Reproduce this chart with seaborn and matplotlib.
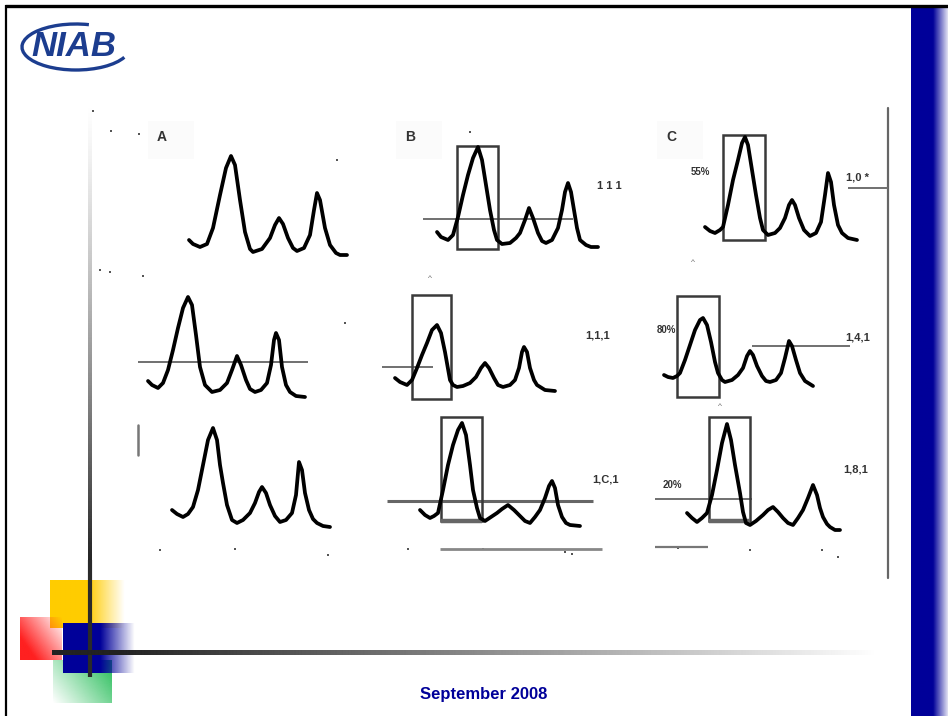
import numpy as np
import matplotlib
matplotlib.use("Agg")
import matplotlib.pyplot as plt
from matplotlib.patches import Rectangle, Arc
import seaborn as sns

sns.set_theme(style="white")
plt.rcParams["font.family"] = ["Liberation Sans", "DejaVu Sans"]

# ---------------- data (retention time, detector response) ----------------
a1_t = [59, 63, 70, 77, 83, 90, 96, 101, 105, 110, 115, 120, 123, 132, 140, 145, 149, 153, 158, 163, 167, 174, 180, 184, 187, 190, 195, 200, 206, 210, 217]
a1_y = [20, 16, 13, 16, 32, 65, 92, 104, 95, 60, 28, 11, 8, 11, 22, 35, 42, 36, 22, 12, 9, 12, 25, 50, 67, 60, 32, 15, 7, 5, 5]

b1_t = [57, 61, 68, 73, 78, 83, 88, 93, 98, 102, 106, 110, 114, 117, 122, 130, 136, 140, 145, 149, 153, 158, 162, 166, 172, 178, 182, 185, 188, 191, 194, 197, 200, 206, 211, 218]
b1_y = [28, 23, 20, 25, 43, 65, 85, 102, 113, 100, 75, 50, 30, 20, 16, 17, 22, 27, 40, 52, 42, 27, 19, 17, 20, 32, 50, 68, 77, 68, 50, 32, 20, 15, 13, 13]

c1_t = [65, 70, 75, 80, 83, 88, 93, 98, 102, 105, 108, 112, 116, 120, 123, 128, 135, 140, 145, 149, 152, 155, 159, 164, 170, 176, 181, 185, 188, 191, 194, 198, 202, 208, 217]
c1_y = [33, 29, 27, 30, 33, 55, 80, 100, 117, 123, 115, 90, 65, 42, 30, 25, 27, 32, 42, 55, 60, 55, 42, 30, 24, 27, 38, 65, 87, 78, 55, 35, 27, 22, 20]

a2_t = [18, 22, 28, 33, 38, 43, 48, 53, 58, 62, 66, 70, 75, 82, 90, 97, 102, 107, 111, 116, 120, 125, 131, 137, 141, 144, 146, 149, 152, 156, 160, 166, 175]
a2_y = [24, 20, 17, 22, 35, 55, 77, 97, 108, 100, 70, 38, 20, 13, 15, 22, 35, 49, 40, 25, 16, 13, 15, 22, 40, 65, 72, 65, 38, 20, 13, 9, 8]

b2_t = [15, 20, 27, 32, 37, 42, 47, 52, 57, 61, 65, 70, 73, 77, 83, 90, 96, 101, 105, 109, 114, 118, 123, 130, 135, 139, 142, 144, 147, 150, 154, 157, 165, 175]
b2_y = [27, 23, 20, 25, 37, 50, 62, 75, 80, 72, 53, 25, 20, 18, 19, 22, 28, 37, 42, 37, 27, 20, 18, 20, 25, 37, 53, 58, 53, 37, 25, 20, 15, 14]

c2_t = [24, 28, 33, 37, 40, 45, 50, 55, 60, 63, 67, 71, 75, 78, 82, 85, 92, 98, 103, 107, 110, 113, 117, 122, 126, 130, 136, 141, 145, 149, 152, 156, 160, 165, 173]
c2_y = [30, 28, 27, 29, 32, 45, 60, 75, 85, 87, 80, 63, 43, 32, 25, 23, 25, 30, 37, 49, 54, 50, 39, 29, 24, 23, 25, 32, 47, 64, 59, 45, 32, 24, 19]

a3_t = [42, 47, 53, 58, 63, 68, 73, 78, 83, 87, 90, 93, 97, 102, 107, 113, 120, 125, 129, 132, 136, 140, 145, 150, 156, 162, 166, 169, 172, 175, 179, 183, 187, 193, 200]
a3_y = [30, 26, 23, 26, 33, 50, 75, 100, 112, 100, 75, 57, 35, 20, 17, 20, 27, 37, 48, 53, 47, 35, 24, 18, 20, 27, 45, 78, 70, 47, 30, 21, 17, 14, 13]

b3_t = [40, 45, 50, 54, 58, 63, 68, 73, 78, 82, 86, 90, 93, 97, 100, 105, 111, 117, 122, 128, 134, 140, 145, 150, 155, 160, 165, 169, 172, 175, 178, 182, 186, 190, 200]
b3_y = [30, 25, 22, 24, 27, 50, 75, 95, 110, 117, 105, 75, 50, 32, 22, 19, 23, 27, 31, 35, 30, 24, 19, 17, 23, 30, 42, 54, 59, 52, 35, 23, 17, 15, 14]

c3_t = [47, 52, 57, 62, 67, 72, 77, 82, 87, 91, 95, 100, 103, 106, 110, 116, 123, 128, 133, 138, 143, 148, 153, 158, 163, 168, 173, 177, 180, 183, 187, 190, 195, 200]
c3_y = [27, 22, 18, 22, 27, 45, 70, 97, 116, 100, 75, 47, 28, 17, 15, 19, 25, 30, 33, 28, 22, 17, 15, 22, 30, 42, 55, 45, 32, 23, 16, 13, 10, 10]

# integration windows (t_start, t_end, y_low, y_high) and threshold lines (t_start, t_end, level)
b1_box = (77, 118, 11, 114); b1_thr = (43, 193, 41)
c1_box = (83, 125, 20, 125); c1_thr = (208, 248, 72)
a2_thr = (8, 178, 43)
b2_box = (32, 71, 6, 110);   b2_thr = (2, 53, 38)
c2_box = (37, 79, 8, 109);   c2_thr = (112, 210, 59)
b3_box = (61, 102, 19, 123); b3_thr = (7, 213, 39); b3_base = (60, 222, -9)
c3_box = (69, 110, 19, 123); c3_thr = (15, 112, 41); c3_base = (15, 68, -7)

panel_labels = ["A", "B", "C"]
pct_labels = ["55%", "80%", "20%"]
ratio_labels = ["1 1 1", "1,0 *", "1,1,1", "1,4,1", "1,C,1", "1,8,1"]
footer = "September 2008"

# ---------------- figure ----------------
W, H = 948, 716
fig = plt.figure(figsize=(W / 100, H / 100), dpi=100)
bg = fig.add_axes([0, 0, 1, 1])
bg.set_xlim(0, W); bg.set_ylim(H, 0); bg.axis("off")


def grad(ax, x0, x1, y0, y1, rgb, afn, z):
    n = 120
    U, V = np.meshgrid(np.linspace(0, 1, n), np.linspace(0, 1, n))
    img = np.zeros((n, n, 4))
    img[..., :3] = matplotlib.colors.to_rgb(rgb)
    img[..., 3] = np.clip(afn(U, V), 0, 1)
    ax.imshow(img, extent=(x0, x1, y1, y0), origin="upper", aspect="auto",
              zorder=z, interpolation="bilinear")


# right blue bar
grad(bg, 911, 948, 7, 716, "#000099", lambda U, V: 0.12 + 0.88 * np.clip((1 - U) / 0.4, 0, 1), 1)
# borders
bg.plot([5, 948], [6, 6], color="black", lw=2.4, zorder=3, solid_capstyle="butt")
bg.plot([6, 6], [5, 716], color="black", lw=1.6, zorder=3, solid_capstyle="butt")

# logo
bg.text(31, 46, "NIAB", fontsize=25, fontweight="bold", style="italic",
        color="#1c3d8f", va="center", ha="left", zorder=4)
bg.add_patch(Arc((76, 47), 108, 46, theta1=12, theta2=300, color="#1c3d8f", lw=2.4, zorder=4))

# decorative squares
grad(bg, 50, 125, 580, 628, "#FFCC00", lambda U, V: (1 - U) / 0.5, 2)
grad(bg, 20, 62, 617, 660, "#FF2020", lambda U, V: (1 - U) * 0.75 + V * 0.55, 2)
grad(bg, 53, 112, 660, 703, "#30C060", lambda U, V: (U * 0.8 + (1 - V) * 0.45) * 0.85, 2)
grad(bg, 63, 135, 623, 673, "#000099", lambda U, V: (1 - U) / 0.48, 3)
# gradient lines
grad(bg, 88, 92, 100, 565, "#222222", lambda U, V: V ** 1.3, 4)
bg.plot([90, 90], [560, 677], color="#2a2a2a", lw=3, zorder=5, solid_capstyle="butt")
grad(bg, 52, 880, 650, 655, "#222222", lambda U, V: np.clip(1 - (U - 0.08) / 0.92, 0, 1), 5)

# right vertical rule and other scan marks
bg.plot([888, 888], [108, 578], color="#666666", lw=1.6, zorder=3)
bg.plot([138, 138], [425, 455], color="#777777", lw=1.8, zorder=3)
mx = [93, 111, 139, 337, 470, 100, 110, 143, 345, 160, 235, 328, 408, 483, 565, 572, 750, 822, 838, 678]
my = [111, 131, 134, 160, 132, 270, 272, 276, 323, 550, 549, 555, 549, 549, 552, 554, 550, 550, 557, 548]
bg.scatter(mx, my, s=4, marker="s", color="#555555", zorder=3, linewidths=0)
for x, y in [(430, 278), (693, 263), (720, 407)]:
    bg.text(x, y, "^", fontsize=6, color="#666666", ha="center", va="center", zorder=3)

# labels
for lab, x in zip(panel_labels, [162, 410, 671]):
    bg.add_patch(Rectangle((x - 14, 121), 46, 38, color="#fbfbfb", zorder=2, lw=0))
    bg.text(x, 137, lab, fontsize=10, fontweight="bold", color="#333333", ha="center", va="center", zorder=4)
for lab, (x, y) in zip(pct_labels, [(700, 172), (666, 330), (672, 485)]):
    bg.text(x, y, lab, fontsize=7, fontweight="bold", color="#333333", ha="center", va="center", zorder=4)
for lab, (x, y) in zip(ratio_labels, [(609, 186), (858, 178), (598, 335), (858, 337), (606, 480), (856, 470)]):
    bg.text(x, y, lab, fontsize=8, fontweight="bold", color="#333333", ha="center", va="center", zorder=4)

bg.text(484, 695, footer, fontsize=12, fontweight="bold", color="#000099",
        ha="center", va="center", zorder=6)

# ---------------- chromatogram panels ----------------
PW, PH = 260, 155


def panel(left, base):
    ax = fig.add_axes([left / W, (H - (base + 25)) / H, PW / W, PH / H])
    ax.set_xlim(0, PW); ax.set_ylim(-25, 130)
    ax.axis("off"); ax.patch.set_alpha(0)
    return ax


def curve(ax, t, y):
    sns.lineplot(x=t, y=y, ax=ax, color="black", linewidth=2.7, sort=False,
                 estimator=None, zorder=5)


def box(ax, b, thick_bottom=False):
    t0, t1, lo, hi = b
    ax.add_patch(Rectangle((t0, lo), t1 - t0, hi - lo, fill=False, ec="#3a3a3a", lw=1.8, zorder=4))
    if thick_bottom:
        ax.plot([t0, t1], [lo, lo], color="#666666", lw=3.2, zorder=4, solid_capstyle="butt")


def hline(ax, h, lw=1.4, color="#707070"):
    t0, t1, lv = h
    ax.plot([t0, t1], [lv, lv], color=color, lw=lw, zorder=3, solid_capstyle="butt")


cols = [130, 380, 640]
rows = [260, 405, 540]

ax = panel(cols[0], rows[0]); curve(ax, a1_t, a1_y)
ax = panel(cols[1], rows[0]); curve(ax, b1_t, b1_y); box(ax, b1_box); hline(ax, b1_thr)
ax = panel(cols[2], rows[0]); curve(ax, c1_t, c1_y); box(ax, c1_box); hline(ax, c1_thr)

ax = panel(cols[0], rows[1]); curve(ax, a2_t, a2_y); hline(ax, a2_thr)
ax = panel(cols[1], rows[1]); curve(ax, b2_t, b2_y); box(ax, b2_box); hline(ax, b2_thr)
ax = panel(cols[2], rows[1]); curve(ax, c2_t, c2_y); box(ax, c2_box); hline(ax, c2_thr)

ax = panel(cols[0], rows[2]); curve(ax, a3_t, a3_y)
ax = panel(cols[1], rows[2]); curve(ax, b3_t, b3_y); box(ax, b3_box, True); hline(ax, b3_thr, 2.2, "#666666"); hline(ax, b3_base, 2.0, "#888888")
ax = panel(cols[2], rows[2]); curve(ax, c3_t, c3_y); box(ax, c3_box, True); hline(ax, c3_thr, 1.4); hline(ax, c3_base, 1.6, "#777777")

bg.set_xlim(0, W); bg.set_ylim(H, 0)
fig.savefig("out.png", dpi=100)
